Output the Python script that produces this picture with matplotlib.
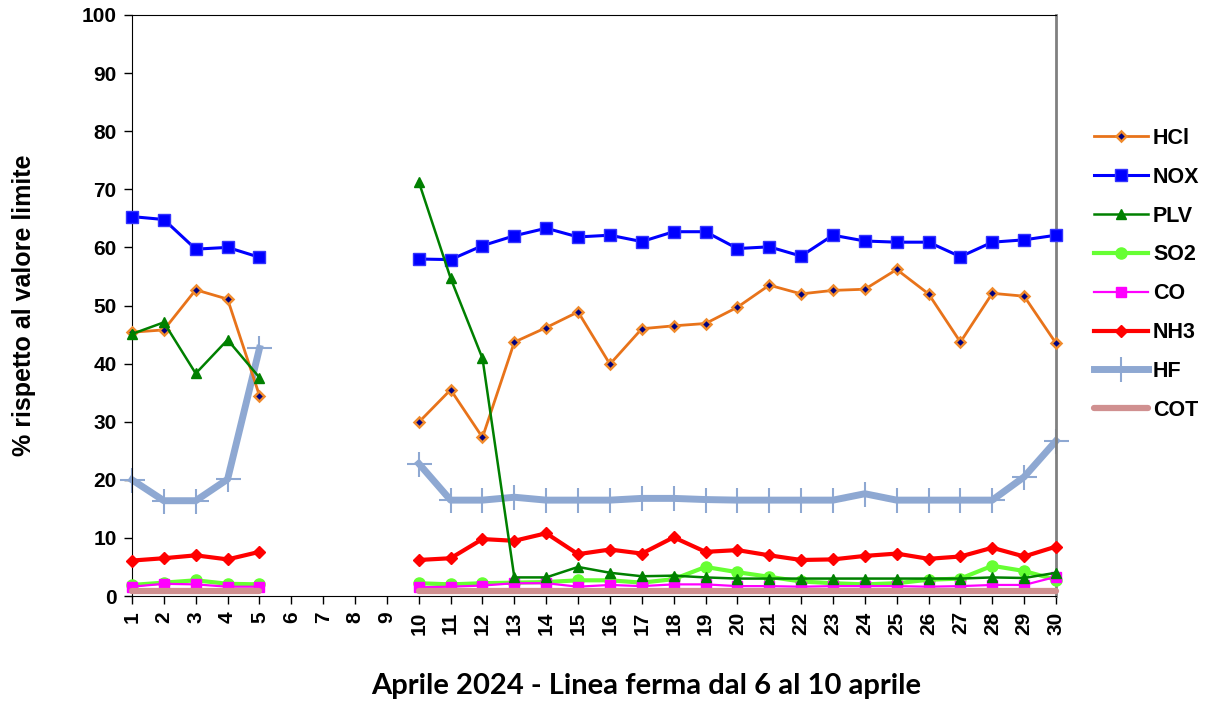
import numpy as np
import matplotlib.pyplot as plt

nan = np.nan
days = np.arange(1, 31)

hcl = [45.4, 45.8, 52.7, 51.1, 34.5, nan, nan, nan, nan,
       29.9, 35.5, 27.3, 43.7, 46.2, 48.9, 39.9, 46.0, 46.5, 46.9,
       49.7, 53.5, 52.0, 52.6, 52.8, 56.2, 52.0, 43.7, 52.1, 51.6, 43.5]
nox = [65.3, 64.8, 59.7, 60.0, 58.3, nan, nan, nan, nan,
       58.0, 57.9, 60.3, 62.0, 63.3, 61.8, 62.1, 61.0, 62.7, 62.7,
       59.8, 60.1, 58.5, 62.1, 61.1, 60.9, 60.9, 58.4, 60.9, 61.3, 62.1]
plv = [45.1, 47.1, 38.3, 44.1, 37.6, nan, nan, nan, nan,
       71.3, 54.7, 40.9, 3.2, 3.2, 5.0, 4.0, 3.4, 3.5, 3.2,
       3.0, 3.0, 3.0, 3.0, 3.0, 3.0, 3.0, 3.0, 3.2, 3.1, 4.0]
so2 = [1.9, 2.3, 2.7, 2.1, 2.0, nan, nan, nan, nan,
       2.2, 2.0, 2.2, 2.3, 2.4, 2.7, 2.7, 2.3, 2.9, 5.0,
       4.1, 3.3, 2.5, 2.2, 2.0, 2.2, 2.8, 3.0, 5.2, 4.3, 2.8]
co = [1.6, 2.1, 2.0, 1.6, 1.6, nan, nan, nan, nan,
      1.5, 1.6, 1.8, 2.2, 2.2, 1.6, 1.9, 1.7, 2.0, 2.0,
      1.7, 1.7, 1.6, 1.7, 1.7, 1.7, 1.6, 1.7, 1.9, 1.9, 3.3]
nh3 = [6.1, 6.5, 7.0, 6.3, 7.6, nan, nan, nan, nan,
       6.2, 6.5, 9.8, 9.5, 10.8, 7.2, 8.0, 7.3, 10.1, 7.6,
       7.9, 7.0, 6.2, 6.3, 6.9, 7.3, 6.4, 6.8, 8.3, 6.8, 8.5]
hf = [20.0, 16.4, 16.4, 20.1, 42.6, nan, nan, nan, nan,
      22.8, 16.5, 16.5, 17.0, 16.5, 16.5, 16.5, 16.8, 16.8, 16.6,
      16.5, 16.5, 16.5, 16.5, 17.6, 16.5, 16.5, 16.5, 16.5, 20.5, 26.7]
cot = [0.9, 0.9, 0.9, 0.9, 0.9, nan, nan, nan, nan,
       0.9, 0.9, 0.9, 0.9, 0.9, 0.9, 0.9, 0.9, 0.9, 0.9,
       0.9, 0.9, 0.9, 0.9, 0.9, 0.9, 0.9, 0.9, 0.9, 0.9, 0.9]

fig = plt.figure(figsize=(12.06, 7.08), dpi=100)
ax = fig.add_axes([132/1206, 1-596/708, (1056-132)/1206, (596-15)/708])

ax.plot(days, hcl, color='#E8731A', lw=2.0, marker='D', ms=5.5, mfc='#000080',
        mec='#F08A2C', mew=1.8, label='HCl', clip_on=False, zorder=3)
ax.plot(days, nox, color='#0000FF', lw=2.2, marker='s', ms=8.5, mfc='#0000FF',
        mec='#3333FF', label='NOX', clip_on=False, zorder=3)
ax.plot(days, plv, color='#008000', lw=1.8, marker='^', ms=7, mfc='#008000',
        mec='#008000', label='PLV', clip_on=False, zorder=5)
ax.plot(days, so2, color='#66FF33', lw=3.0, marker='o', ms=8, mfc='#66FF33',
        mec='#66FF33', label='SO2', clip_on=False, zorder=3)
ax.plot(days, co, color='#FF00FF', lw=1.6, marker='s', ms=7.5, mfc='#FF00FF',
        mec='#FF00FF', label='CO', clip_on=False, zorder=3)
ax.plot(days, nh3, color='#FF0000', lw=3.0, marker='D', ms=6, mfc='#FF0000',
        mec='#FF0000', label='NH3', clip_on=False, zorder=3)
ax.plot(days, hf, color='#8EA8D2', lw=5.0, marker='+', ms=18, mew=1.5,
        mec='#8EA8D2', label='HF', clip_on=False, zorder=2)
ax.plot(days, cot, color='#D09090', lw=4.5, solid_capstyle='round',
        label='COT', clip_on=False, zorder=4)

ax.set_xlim(1, 30)
ax.set_ylim(0, 100)
ax.set_yticks(range(0, 101, 10))
ax.set_xticks(days)
ax.set_xticklabels([str(d) for d in days], rotation=90, fontsize=15,
                   fontweight='bold', family='Liberation Sans')
for t in ax.get_yticklabels():
    t.set_fontsize(15)
    t.set_fontweight('bold')
    t.set_family('Liberation Sans')
ax.tick_params(axis='both', direction='out', length=6, width=1, pad=5)
ax.spines['right'].set_color('#808080')
ax.spines['right'].set_linewidth(2)

fig.text(24/1206, 1-305/708, '% rispetto al valore limite', rotation=90,
         ha='center', va='center', fontsize=18, fontweight='bold',
         family='Liberation Sans')
fig.text(646/1206, 1-686/708, 'Aprile 2024 - Linea ferma dal 6 al 10 aprile',
         ha='center', va='center', fontsize=21, fontweight='bold', family='Lato')

fig.legend(loc='upper left', bbox_to_anchor=(1083/1206, 1-117/708),
           frameon=False, prop={'family': 'Liberation Sans', 'weight': 'bold', 'size': 15.5},
           handlelength=2.5, handletextpad=0.25, labelspacing=0.83, borderpad=0)

fig.savefig('out.png', dpi=100)
